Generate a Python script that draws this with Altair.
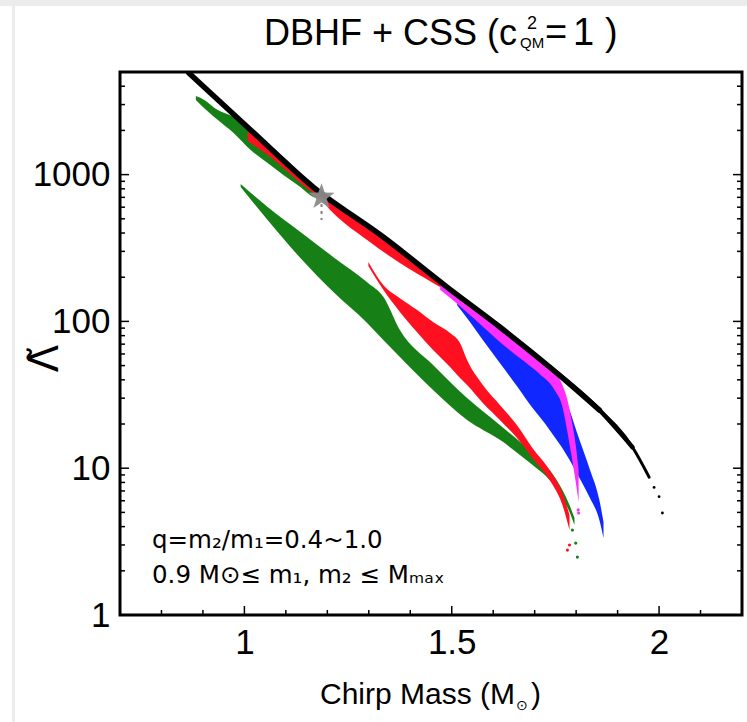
import altair as alt
import pandas as pd

# ---------------- data ----------------
# Black band (pure hadronic DBHF)
black_m = [0.866, 1.015, 1.166, 1.335, 1.488, 1.616, 1.736, 1.856]
black_l = [4920, 2014, 823, 376, 172, 91.6, 48.9, 24.9]
black_mid_m = [1.736, 1.856, 1.936]
black_mid_l = [48.9, 24.9, 13.9]
black_tail_m = [1.856, 1.936, 1.976]
black_tail_l = [24.9, 13.9, 8.7]
black_dot_m = [1.988, 2.000, 2.008]
black_dot_l = [7.4, 6.4, 4.95]

# Green, upper branch
g1_m = [0.883, 0.895, 0.936, 0.974, 1.015, 1.056, 1.094, 1.135, 1.166, 1.183]
g1_hi = [3430, 3327, 2754, 2468, 2014, 1642, 1318, 1025, 810, 749]
g1_lo = [3222, 2979, 2355, 1920, 1471, 1200, 994, 823, 704, 682]

# Green, lower branch
g2_m = [0.991, 1.056, 1.135, 1.214, 1.296, 1.335, 1.375, 1.455, 1.537, 1.616,
        1.695, 1.736, 1.767, 1.784, 1.796]
g2_hi = [863, 601, 406, 275, 185, 147, 87.4, 50.5, 30.1, 19.7,
         12.7, 9.72, 7.10, 5.61, 4.58]
g2_lo = [823, 491, 270, 159, 97.5, 74.7, 57.2, 34.1, 21.3, 15.6,
         10.5, 8.31, 6.27, 5.03, 4.10]
g2_dot_m = [1.791, 1.799, 1.803]
g2_dot_l = [3.79, 3.09, 2.48]

# Red, upper branch
r1_m = [1.008, 1.063, 1.135, 1.183, 1.214, 1.296, 1.375, 1.455, 1.496, 1.520]
r1_hi = [2110, 1542, 994, 761, 661, 454, 311, 204, 166, 147]
r1_lo = [1694, 1318, 877, 682, 547, 358, 250, 183, 156, 136]

# Red, lower branch
r2_m = [1.299, 1.335, 1.375, 1.416, 1.455, 1.496, 1.520, 1.537, 1.575, 1.616,
        1.657, 1.695, 1.736, 1.767, 1.784]
r2_hi = [254, 177, 144, 120, 99.1, 83.4, 71.3, 54.6, 36.9, 27.0,
         19.7, 13.7, 9.72, 6.78, 4.80]
r2_lo = [238, 164, 116, 84.7, 63.9, 48.9, 41.2, 36.9, 27.8, 21.3,
         16.1, 11.7, 8.31, 5.61, 3.79]
r2_dot_m = [1.784, 1.779]
r2_dot_l = [3.0, 2.77]

# Blue branch
b_m = [1.513, 1.544, 1.575, 1.616, 1.657, 1.695, 1.724, 1.748, 1.767, 1.784,
       1.808, 1.832, 1.856, 1.866]
b_hi = [136, 121, 105, 87.4, 71.3, 56.3, 48.2, 41.2, 34.1, 24.9,
        15.6, 10.0, 6.07, 4.30]
b_lo = [129, 99.1, 74.7, 52.1, 36.3, 25.7, 20.3, 16.3, 13.7, 11.4,
        8.58, 6.37, 4.44, 3.35]

# Magenta branch
mg_m = [1.472, 1.520, 1.568, 1.616, 1.664, 1.712, 1.748, 1.767, 1.779, 1.789,
        1.799, 1.806]
mg_hi = [180, 144, 114, 90.2, 71.3, 56.3, 45.2, 36.9, 29.2, 21.3, 14.4, 9.72]
mg_lo = [164, 127, 96.0, 72.4, 56.3, 43.8, 34.1, 26.1, 17.6, 12.1, 8.05, 5.89]
mg_dot_m = [1.805, 1.806]
mg_dot_l = [5.2, 4.95]

# GW170817 marker
star_m = [1.186]
star_l = [704]
star_err_l = [491]

# Axis ticks
x_major = [1.0, 1.5, 2.0]
x_minor = [0.8, 0.9, 1.1, 1.2, 1.3, 1.4, 1.6, 1.7, 1.8, 1.9, 2.1]
y_major = [1, 10, 100, 1000]
y_minor = [2, 3, 4, 5, 6, 7, 8, 9, 20, 30, 40, 50, 60, 70, 80, 90,
           200, 300, 400, 500, 600, 700, 800, 900, 2000, 3000, 4000]

title_main = "DBHF + CSS (c"
title_sup = "2"
title_sub = "QM"
title_end = ["=", "1", ")"]
note_lines = ["q=m₂/m₁=0.4~1.0", "0.9 M⊙≤ m₁, m₂ ≤ Mₘₐₓ"]
x_title = ["Chirp Mass (M", "⊙", ")"]
y_title = "Λ̃"

# ---------------- chart ----------------
W, H = 622, 543
FONT = "Liberation Sans"
GREEN, RED, BLUE, MAGENTA = "#168016", "#ff1020", "#1028ff", "#ff30ff"
FRAME_GRAY = "#ececec"

xs = alt.Scale(type="linear", domain=[0.7, 2.2], nice=False, zero=False)
ys = alt.Scale(type="log", domain=[1, 5000], nice=False)

x_axis = alt.Axis(values=x_major, format="~g", ticks=False, domain=False, grid=False,
                  labelFontSize=35, labelFont=FONT, labelColor="black", labelPadding=10,
                  labelFlush=False, labelOverlap=False, title=None)
y_axis = alt.Axis(values=y_major, format="~g", ticks=False, domain=False, grid=False,
                  labelFontSize=35, labelFont=FONT, labelColor="black", labelPadding=10,
                  labelFlush=False, labelOverlap=False,
                  title=y_title, titleFont="DejaVu Sans", titleFontSize=40,
                  titleFontWeight="normal", titleColor="black", titleAngle=270,
                  titleX=-75, titleY=286, titleAlign="center", titleBaseline="middle")


def band(m, hi, lo, color):
    df = pd.DataFrame({"m": m, "hi": hi, "lo": lo})
    return alt.Chart(df).mark_area(color=color, opacity=1, clip=True,
                                   interpolate="monotone").encode(
        x=alt.X("m:Q", scale=xs, axis=x_axis),
        y=alt.Y("hi:Q", scale=ys, axis=y_axis),
        y2="lo:Q")


def dots(m, l, color, size=10):
    df = pd.DataFrame({"m": m, "l": l})
    return alt.Chart(df).mark_circle(color=color, size=size, opacity=1, clip=True).encode(
        x=alt.X("m:Q", scale=xs, axis=x_axis),
        y=alt.Y("l:Q", scale=ys, axis=y_axis))


def curve(m, l, width):
    df = pd.DataFrame({"m": m, "l": l})
    return alt.Chart(df).mark_line(color="black", strokeWidth=width, clip=True,
                                   interpolate="monotone", strokeCap="round").encode(
        x=alt.X("m:Q", scale=xs, axis=x_axis),
        y=alt.Y("l:Q", scale=ys, axis=y_axis))


star_path = ("M0,-1L0.235,-0.324L0.951,-0.309L0.38,0.124L0.588,0.809L0,0.4"
             "L-0.588,0.809L-0.38,0.124L-0.951,-0.309L-0.235,-0.324Z")
star_df = pd.DataFrame({"m": star_m, "l": star_l, "e": star_err_l})
star_err = alt.Chart(star_df).mark_rule(color="#808080", strokeWidth=2,
                                        strokeDash=[3, 4]).encode(
    x=alt.X("m:Q", scale=xs, axis=x_axis),
    y=alt.Y("l:Q", scale=ys, axis=y_axis), y2="e:Q")
star = alt.Chart(star_df).mark_point(shape=star_path, size=750, filled=True,
                                     color="#8a8a8a", opacity=0.95).encode(
    x=alt.X("m:Q", scale=xs, axis=x_axis),
    y=alt.Y("l:Q", scale=ys, axis=y_axis))


# inward ticks
def yticks(vals, x0, x1):
    df = pd.DataFrame({"v": vals})
    return alt.Chart(df).mark_rule(color="black", strokeWidth=1.5).encode(
        y=alt.Y("v:Q", scale=ys, axis=y_axis), x=alt.value(x0), x2=alt.value(x1))


def xticks(vals, y0, y1):
    df = pd.DataFrame({"v": vals})
    return alt.Chart(df).mark_rule(color="black", strokeWidth=1.5).encode(
        x=alt.X("v:Q", scale=xs, axis=x_axis), y=alt.value(y0), y2=alt.value(y1))


def label(txt, x, y, size, align="left", font=FONT):
    df = pd.DataFrame({"t": [txt]})
    return alt.Chart(df).mark_text(align=align, baseline="alphabetic", fontSize=size,
                                   font=font, color="black").encode(
        text="t:N", x=alt.value(x), y=alt.value(y))


def strip(x0, x1, y0, y1):
    df = pd.DataFrame({"k": [0]})
    return alt.Chart(df).mark_rect(color=FRAME_GRAY, clip=False).encode(
        x=alt.value(x0), x2=alt.value(x1), y=alt.value(y0), y2=alt.value(y1))


layers = [
    strip(-120, 627, -72, -66),
    strip(-108, -105, -66, 650),
    band(g1_m, g1_hi, g1_lo, GREEN),
    band(g2_m, g2_hi, g2_lo, GREEN),
    dots(g2_dot_m, g2_dot_l, GREEN),
    band(r1_m, r1_hi, r1_lo, RED),
    band(r2_m, r2_hi, r2_lo, RED),
    dots(r2_dot_m, r2_dot_l, RED),
    band(b_m, b_hi, b_lo, BLUE),
    band(mg_m, mg_hi, mg_lo, MAGENTA),
    dots(mg_dot_m, mg_dot_l, MAGENTA),
    curve(black_m, black_l, 5.5),
    curve(black_mid_m, black_mid_l, 4.5),
    curve(black_tail_m, black_tail_l, 3),
    dots(black_dot_m, black_dot_l, "black", 8),
    star_err,
    star,
    yticks(y_major, 0, 9), yticks(y_minor, 0, 5),
    yticks(y_major, W, W - 9), yticks(y_minor, W, W - 5),
    xticks(x_major, H, H - 9), xticks(x_minor, H, H - 5),
    label(title_main, 397, -27, 36, align="right"),
    label(title_sup, 407, -43, 18),
    label(title_sub, 400, -24, 15),
    label(title_end[0], 425, -27, 38),
    label(title_end[1], 453, -27, 38),
    label(title_end[2], 485, -27, 38),
    label(note_lines[0], 32, 476, 24.5, font="DejaVu Sans"),
    label(note_lines[1], 32, 511, 24.5, font="DejaVu Sans"),
    label(x_title[0], 200, 632, 30),
    label(x_title[1], 396, 638, 14),
    label(x_title[2], 411, 632, 30),
]

chart = alt.layer(*layers).properties(
    width=W, height=H,
    autosize=alt.AutoSizeParams(type="none"),
    padding={"left": 120, "top": 72, "right": 5, "bottom": 107},
    background="white",
).configure_view(stroke="black", strokeWidth=3)

chart.save("out.html", embed_options={"renderer": "svg", "actions": False})
